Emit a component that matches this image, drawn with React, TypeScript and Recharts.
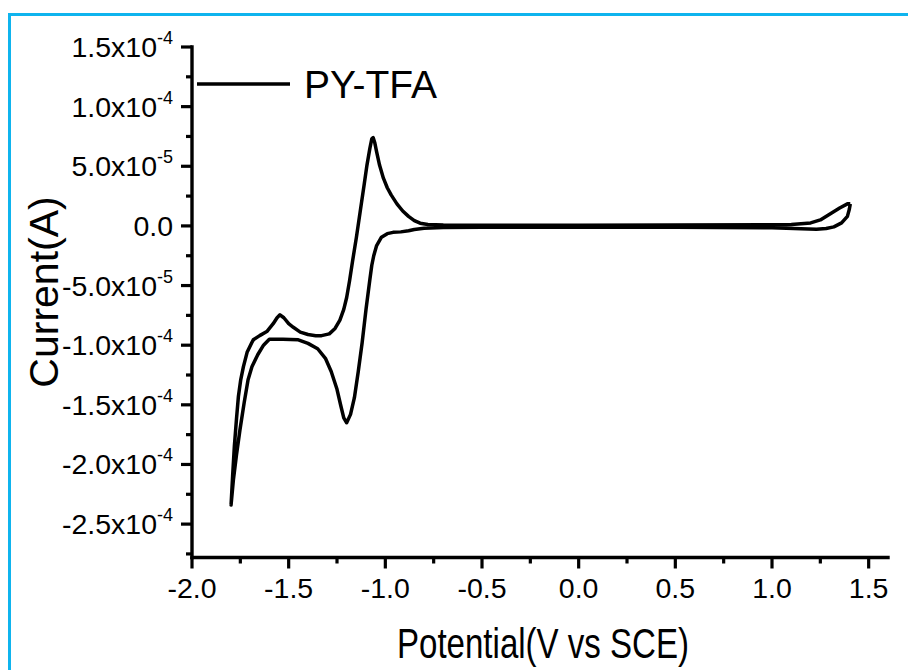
import React from 'react';
import { LineChart, Line, XAxis, YAxis } from 'recharts';

// Cathodic (negative-going) sweep: potential (V) and current (A)
const cathodicV = [1.405, 1.4, 1.39, 1.36, 1.32, 1.28, 1.23, 1.15, 1.0, 0.5, 0.0, -0.5, -0.7, -0.8, -0.85, -0.88, -0.92, -0.96, -0.99, -1.02, -1.045, -1.06, -1.07, -1.08, -1.1, -1.12, -1.14, -1.16, -1.18, -1.2, -1.215, -1.23, -1.25, -1.28, -1.31, -1.35, -1.4, -1.45, -1.53, -1.6, -1.63, -1.66, -1.69, -1.71, -1.73, -1.752, -1.77, -1.786, -1.798];
const cathodicI = [1.85e-5, 1.4e-5, 8e-6, 2.5e-6, -0.8e-6, -2.2e-6, -2.8e-6, -2.4e-6, -1.6e-6, -1.2e-6, -1.1e-6, -1.1e-6, -1.4e-6, -2.0e-6, -3.0e-6, -4.0e-6, -5.0e-6, -5.4e-6, -6.5e-6, -9.5e-6, -1.65e-5, -2.5e-5, -3.3e-5, -4.5e-5, -7.0e-5, -9.8e-5, -1.22e-4, -1.44e-4, -1.58e-4, -1.65e-4, -1.61e-4, -1.51e-4, -1.37e-4, -1.22e-4, -1.11e-4, -1.03e-4, -9.85e-5, -9.55e-5, -9.5e-5, -9.5e-5, -1.0e-4, -1.08e-4, -1.18e-4, -1.29e-4, -1.48e-4, -1.71e-4, -1.92e-4, -2.13e-4, -2.34e-4];

// Anodic (positive-going) sweep
const anodicV = [-1.79, -1.781, -1.77, -1.76, -1.748, -1.734, -1.715, -1.691, -1.683, -1.65, -1.613, -1.58, -1.56, -1.545, -1.525, -1.5, -1.476, -1.44, -1.4, -1.36, -1.33, -1.29, -1.26, -1.235, -1.215, -1.2, -1.185, -1.17, -1.15, -1.13, -1.11, -1.095, -1.08, -1.07, -1.063, -1.055, -1.045, -1.03, -1.01, -0.99, -0.97, -0.94, -0.91, -0.88, -0.85, -0.82, -0.78, -0.7, -0.5, 0.0, 0.5, 1.0, 1.1, 1.2, 1.25, 1.3, 1.35, 1.39, 1.405];
const anodicI = [-2.1e-4, -1.85e-4, -1.62e-4, -1.43e-4, -1.29e-4, -1.18e-4, -1.06e-4, -9.8e-5, -9.55e-5, -9.2e-5, -8.86e-5, -8.2e-5, -7.7e-5, -7.45e-5, -7.7e-5, -8.2e-5, -8.5e-5, -8.9e-5, -9.1e-5, -9.2e-5, -9.2e-5, -9.05e-5, -8.6e-5, -7.9e-5, -7.0e-5, -6.0e-5, -4.6e-5, -3.0e-5, -1.0e-5, 1.2e-5, 3.4e-5, 5.1e-5, 6.5e-5, 7.3e-5, 7.4e-5, 7.0e-5, 6.2e-5, 5.1e-5, 4.0e-5, 3.2e-5, 2.6e-5, 1.85e-5, 1.25e-5, 8e-6, 4.5e-6, 2.3e-6, 1.2e-6, 0.8e-6, 0.6e-6, 0.6e-6, 0.7e-6, 0.9e-6, 1.2e-6, 2.5e-6, 5.0e-6, 1.0e-5, 1.5e-5, 1.85e-5, 1.85e-5];

const xTicks = [-2.0, -1.75, -1.5, -1.25, -1.0, -0.75, -0.5, -0.25, 0.0, 0.25, 0.5, 0.75, 1.0, 1.25, 1.5];
const yTicks = [1.5e-4, 1.25e-4, 1.0e-4, 7.5e-5, 5.0e-5, 2.5e-5, 0, -2.5e-5, -5.0e-5, -7.5e-5, -1.0e-4, -1.25e-4, -1.5e-4, -1.75e-4, -2.0e-4, -2.25e-4, -2.5e-4, -2.75e-4];
const xDomain = [-2.0, 1.6];
const yDomain = [-2.78e-4, 1.5e-4];
const seriesName = 'PY-TFA';
const xTitle = 'Potential(V vs SCE)';
const yTitle = 'Current(A)';

const data = [
  ...cathodicV.map((v, k) => ({ v, i: cathodicI[k] })),
  ...anodicV.map((v, k) => ({ v, i: anodicI[k] })),
];

const FONT = '"Liberation Sans", Arial, sans-serif';
const TICK_FS = 28.5;

const isMajorY = (v: number) => Math.abs(Math.round(v / 5e-5) * 5e-5 - v) < 1e-10;
const isMajorX = (v: number) => Math.abs(Math.round(v / 0.5) * 0.5 - v) < 1e-9;

const YTick = (props: any) => {
  const { x, y, payload } = props;
  const v = payload.value as number;
  if (v < yDomain[0] || v > yDomain[1]) return <g />;
  const major = isMajorY(v);
  const len = major ? 11 : 6;
  let label: React.ReactNode = null;
  if (major) {
    if (Math.abs(v) < 1e-12) {
      label = (
        <text x={x - 19} y={y + 10} textAnchor="end" fontSize={TICK_FS} fontFamily={FONT} fill="#000">0.0</text>
      );
    } else {
      const e = Math.floor(Math.log10(Math.abs(v)) + 1e-9);
      const m = (v / Math.pow(10, e)).toFixed(1);
      label = (
        <text x={x - 19} y={y + 10} textAnchor="end" fontSize={TICK_FS} fontFamily={FONT} fill="#000">
          {m}x10<tspan dy={-13} fontSize={18}>{String(e)}</tspan>
        </text>
      );
    }
  }
  return (
    <g>
      <line x1={x} y1={y} x2={x - len} y2={y} stroke="#000" strokeWidth={3.2} />
      {label}
    </g>
  );
};

const XTick = (props: any) => {
  const { x, y, payload } = props;
  const v = payload.value as number;
  const major = isMajorX(v);
  const len = major ? 11 : 6;
  return (
    <g>
      <line x1={x} y1={y} x2={x} y2={y + len} stroke="#000" strokeWidth={3.2} />
      {major && (
        <text x={x} y={y + 40} textAnchor="middle" fontSize={TICK_FS} fontFamily={FONT} fill="#000">
          {v.toFixed(1)}
        </text>
      )}
    </g>
  );
};

const axisLineStyle = { stroke: '#000', strokeWidth: 3.4, strokeLinecap: 'square' as const };

export default function App() {
  return (
    <div style={{ position: 'absolute', left: 0, top: 0, width: 908, height: 670, background: '#fff' }}>
      <div style={{ position: 'absolute', left: 8, top: 13, width: 900, height: 2.5, background: '#0FB4EE' }} />
      <div style={{ position: 'absolute', left: 8, top: 13, width: 3, height: 657, background: '#0FB4EE' }} />
      <LineChart
        width={908}
        height={670}
        data={data}
        margin={{ top: 47, right: 20, bottom: 0, left: 0 }}
        style={{ position: 'absolute', left: 0, top: 0 }}
      >
        <XAxis
          dataKey="v"
          type="number"
          domain={xDomain}
          ticks={xTicks}
          interval={0}
          allowDataOverflow
          height={112.5}
          tickSize={0}
          tickMargin={0}
          tickLine={false}
          axisLine={axisLineStyle}
          tick={<XTick />}
          label={{
            content: () => (
              <text x={543} y={658} textAnchor="middle" fontSize={42} fontFamily={FONT} fill="#000" textLength={292} lengthAdjust="spacingAndGlyphs">
                {xTitle}
              </text>
            ),
          }}
        />
        <XAxis xAxisId="top" orientation="top" dataKey="v" type="number" domain={xDomain} height={0} tick={false} tickLine={false} axisLine={axisLineStyle} />
        <YAxis
          type="number"
          domain={yDomain}
          ticks={yTicks}
          interval={0}
          allowDataOverflow
          width={192}
          tickSize={0}
          tickMargin={0}
          tickLine={false}
          axisLine={axisLineStyle}
          tick={<YTick />}
          label={{
            content: () => (
              <text x={58} y={292} transform="rotate(-90, 58, 292)" textAnchor="middle" fontSize={41} fontFamily={FONT} fill="#000">
                {yTitle}
              </text>
            ),
          }}
        />
        <YAxis yAxisId="right" orientation="right" type="number" domain={yDomain} width={0} tick={false} tickLine={false} axisLine={axisLineStyle} />
        <Line
          type="linear"
          dataKey="i"
          stroke="#000"
          strokeWidth={3.5}
          strokeLinejoin="round"
          dot={false}
          activeDot={false}
          isAnimationActive={false}
        />
      </LineChart>
      <svg width={908} height={670} style={{ position: 'absolute', left: 0, top: 0, pointerEvents: 'none' }}>
        <line x1={197} y1={84} x2={290} y2={84} stroke="#000" strokeWidth={3.4} />
        <text x={304} y={97.5} fontSize={39} fontFamily={FONT} fill="#000">{seriesName}</text>
      </svg>
    </div>
  );
}
